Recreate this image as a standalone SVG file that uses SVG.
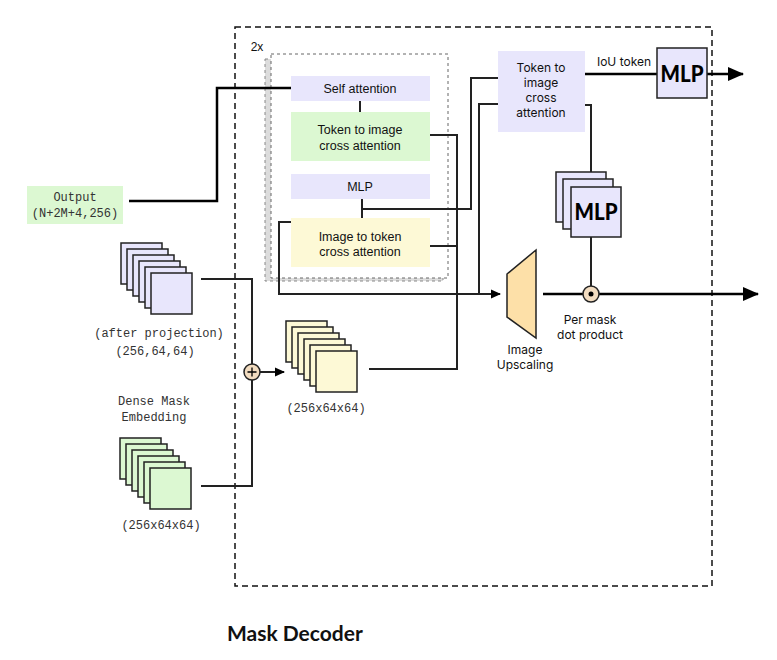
<svg xmlns="http://www.w3.org/2000/svg" width="777" height="660" viewBox="0 0 777 660">
<defs>
<style>
.sans{font-family:"Liberation Sans",Arial,sans-serif;font-size:12.5px;fill:#111;text-anchor:middle}
.inter{font-family:Inter,"Liberation Sans",sans-serif;font-size:12px;fill:#111;text-anchor:middle}
.mono{font-family:"Liberation Mono","Courier New",monospace;font-size:12px;fill:#333;text-anchor:middle}
.big{font-family:Lato,"Noto Sans",sans-serif;font-weight:900;font-size:23px;fill:#000;text-anchor:middle}
.ln{fill:none;stroke:#222;stroke-width:2}
.thk{fill:none;stroke:#000;stroke-width:2.5}
.lav{fill:#e8e6fc}
.grn{fill:#dcf8d2}
.yel{fill:#fdf9d6}
.st{stroke:#222;stroke-width:1.5}
</style>
<marker id="ab" markerUnits="userSpaceOnUse" markerWidth="16" markerHeight="14" refX="15" refY="7" orient="auto"><path d="M0,0 L16,7 L0,14 z" fill="#000"/></marker>
<marker id="as" markerUnits="userSpaceOnUse" markerWidth="10" markerHeight="10" refX="9" refY="5" orient="auto"><path d="M0,0.5 L10,5 L0,9.5 z" fill="#000"/></marker>
</defs>
<rect width="777" height="660" fill="#fff"/>

<g id="decoder-frame">
<rect x="235" y="27" width="477" height="559" fill="none" stroke="#111" stroke-width="1.5" stroke-dasharray="6,4"/>
<text x="257" y="51" class="sans" style="font-size:12px">2x</text>
<rect x="265" y="59" width="178" height="222" fill="#dcdcdc" stroke="#888" stroke-width="1" stroke-dasharray="3,3"/>
<rect x="271" y="54" width="177" height="224" fill="#fff" stroke="#666" stroke-width="1" stroke-dasharray="3,3"/>
</g>

<g id="connectors">
<polyline class="thk" points="129,201 217,201 217,88 291,88"/>
<line class="ln" x1="360" y1="101" x2="360" y2="112"/>
<line class="ln" x1="362" y1="199" x2="362" y2="218"/>
<polyline class="ln" points="362,209 471,209 471,78 498,78"/>
<polyline class="ln" points="369,369 457,369 457,135 430,135"/>
<line class="ln" x1="457" y1="246" x2="430" y2="246"/>
<polyline class="ln" points="291,222 279,222 279,294 500,294" marker-end="url(#as)"/>
<polyline class="ln" points="498,104 479,104 479,294"/>
<line class="thk" x1="585" y1="74" x2="657" y2="74"/>
<line class="thk" x1="707" y1="74" x2="743" y2="74" marker-end="url(#ab)"/>
<polyline class="ln" points="585,105 591,105 591,172"/>
<line class="ln" x1="591" y1="237" x2="591" y2="286"/>
<line class="thk" x1="543" y1="294" x2="758" y2="294" stroke-width="3" marker-end="url(#ab)"/>
<polyline class="ln" points="201,279 252,279 252,364"/>
<polyline class="ln" points="201,486 252,486 252,380"/>
<line class="ln" x1="260" y1="372" x2="284" y2="372" marker-end="url(#as)"/>
</g>

<g id="self-attention">
<rect x="291" y="76" width="139" height="25" class="lav"/>
<text x="360" y="93" class="sans">Self attention</text>
</g>
<g id="token-to-image-1">
<rect x="291" y="112" width="139" height="49" class="grn"/>
<text x="360" y="134" class="sans">Token to image</text>
<text x="360" y="150" class="sans">cross attention</text>
</g>
<g id="mlp-1">
<rect x="291" y="174" width="139" height="25" class="lav"/>
<text x="360" y="191" class="sans">MLP</text>
</g>
<g id="image-to-token">
<rect x="291" y="218" width="139" height="49" class="yel"/>
<text x="360" y="241" class="sans">Image to token</text>
<text x="360" y="256" class="sans">cross attention</text>
</g>

<g id="token-to-image-2">
<rect x="498" y="51" width="87" height="81" class="lav"/>
<text x="541" y="72" class="inter">Token to</text>
<text x="541" y="87" class="inter">image</text>
<text x="541" y="102" class="inter">cross</text>
<text x="541" y="117" class="inter">attention</text>
</g>
<text x="624" y="66" class="inter">IoU token</text>

<g id="iou-mlp">
<rect x="657" y="48" width="50" height="50" class="lav st"/>
<text x="682" y="82" class="big" textLength="43" lengthAdjust="spacingAndGlyphs">MLP</text>
</g>

<g id="mask-mlp">
<rect x="556" y="172" width="50" height="50" class="lav st"/>
<rect x="563" y="179" width="50" height="50" class="lav st"/>
<rect x="571" y="187" width="50" height="50" class="lav st"/>
<text x="596" y="220" class="big" textLength="43" lengthAdjust="spacingAndGlyphs">MLP</text>
</g>

<g id="image-upscaling">
<polygon points="507,274 536,250 536,338 507,317" fill="#fde0a8" stroke="#222" stroke-width="1.5"/>
<text x="525" y="354" class="inter">Image</text>
<text x="525" y="369" class="inter">Upscaling</text>
</g>

<g id="dot-product">
<circle cx="591" cy="294" r="8" fill="#f2dcc0" stroke="#222" stroke-width="1.5"/>
<circle cx="591" cy="294" r="2.5" fill="#000"/>
<text x="590" y="324" class="inter">Per mask</text>
<text x="590" y="339" class="inter">dot product</text>
</g>

<g id="output-tokens">
<rect x="27" y="186" width="96" height="38" class="grn"/>
<text x="75" y="201" class="mono">Output</text>
<text x="75" y="217" class="mono">(N+2M+4,256)</text>
</g>

<g id="image-embedding">
<rect x="121" y="243" width="41" height="41" class="lav st"/>
<rect x="127" y="249" width="41" height="41" class="lav st"/>
<rect x="133" y="255" width="41" height="41" class="lav st"/>
<rect x="139" y="261" width="41" height="41" class="lav st"/>
<rect x="145" y="267" width="41" height="41" class="lav st"/>
<rect x="151" y="273" width="41" height="41" class="lav st"/>
<text x="159" y="337" class="mono">(after projection)</text>
<text x="155" y="355" class="mono">(256,64,64)</text>
</g>

<g id="sum">
<circle cx="252" cy="372" r="8" fill="#f2dcc0" stroke="#222" stroke-width="1.5"/>
<path d="M247.5,372 H256.5 M252,367.5 V376.5" stroke="#000" stroke-width="1.3"/>
</g>

<g id="summed-embedding">
<rect x="286" y="321" width="41" height="41" class="yel st"/>
<rect x="292" y="327" width="41" height="41" class="yel st"/>
<rect x="298" y="333" width="41" height="41" class="yel st"/>
<rect x="304" y="339" width="41" height="41" class="yel st"/>
<rect x="310" y="345" width="41" height="41" class="yel st"/>
<rect x="316" y="351" width="41" height="41" class="yel st"/>
<text x="326" y="412" class="mono">(256x64x64)</text>
</g>

<g id="dense-mask">
<text x="154" y="405" class="mono">Dense Mask</text>
<text x="154" y="421" class="mono">Embedding</text>
<rect x="120" y="438" width="41" height="41" class="grn st"/>
<rect x="126" y="444" width="41" height="41" class="grn st"/>
<rect x="132" y="450" width="41" height="41" class="grn st"/>
<rect x="138" y="456" width="41" height="41" class="grn st"/>
<rect x="144" y="462" width="41" height="41" class="grn st"/>
<rect x="150" y="468" width="41" height="41" class="grn st"/>
<text x="161" y="529" class="mono">(256x64x64)</text>
</g>

<text x="227" y="641" style="font-family:Lato,'Noto Sans',sans-serif;font-weight:bold;font-size:21px;fill:#111">Mask Decoder</text>
</svg>
